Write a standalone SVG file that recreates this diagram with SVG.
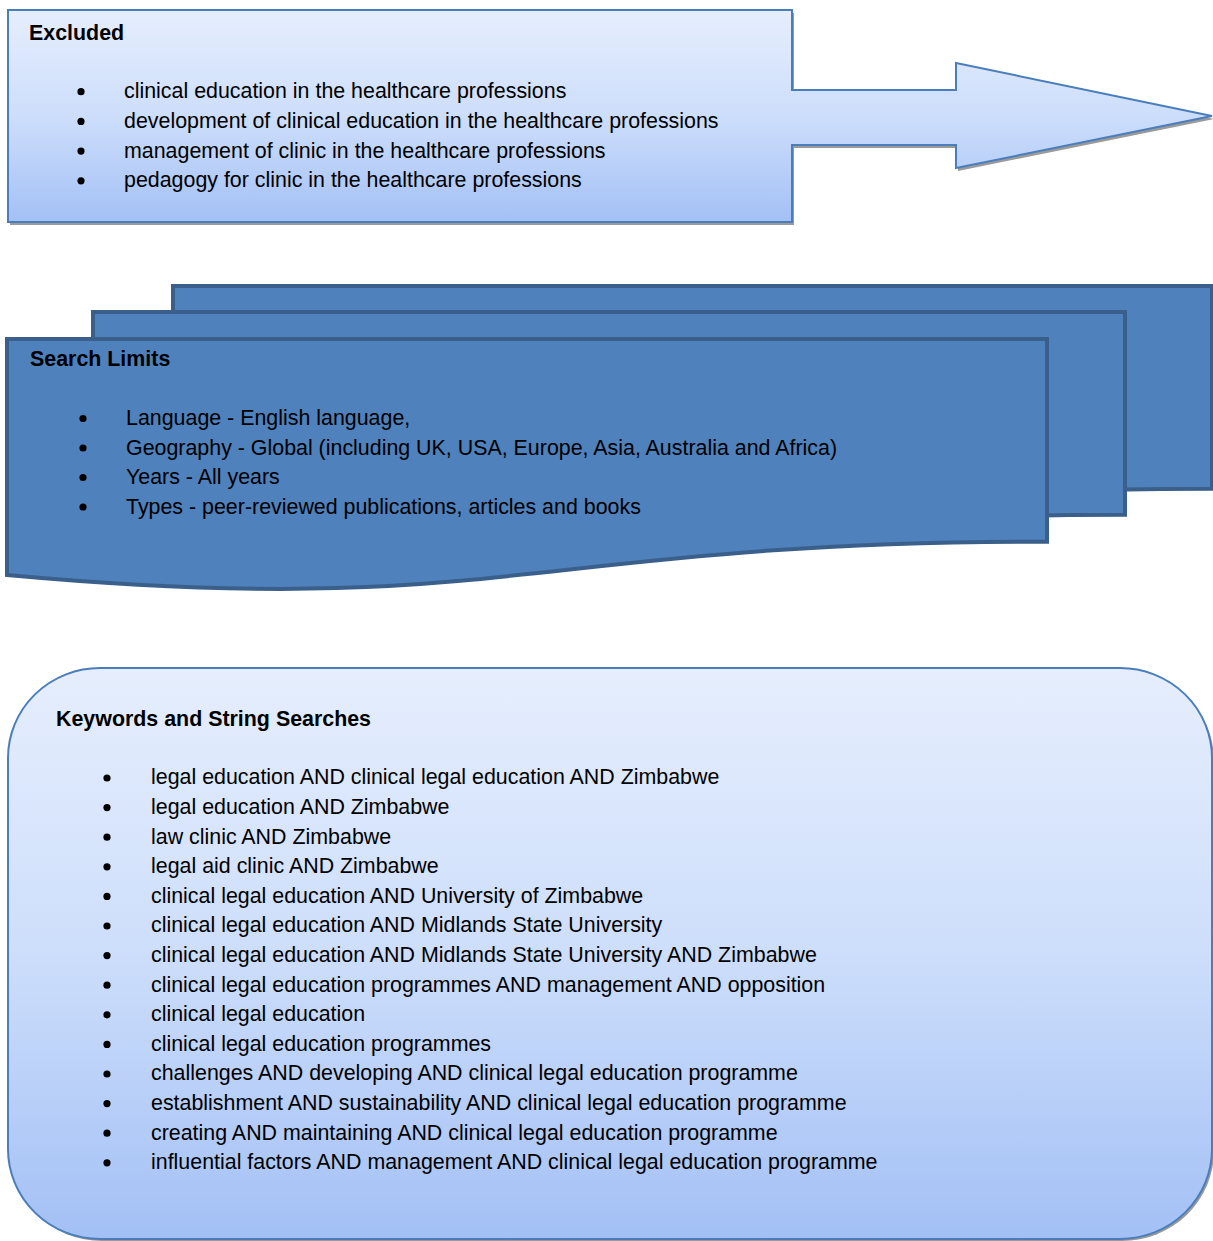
<svg xmlns="http://www.w3.org/2000/svg" width="1213" height="1241" viewBox="0 0 1213 1241">
<defs>
<linearGradient id="gradLight" x1="0" y1="0" x2="0" y2="1">
<stop offset="0" stop-color="#e6eefd"/>
<stop offset="0.5" stop-color="#cddefb"/>
<stop offset="1" stop-color="#a3c0f5"/>
</linearGradient>
</defs>
<style>
text{font-family:"Liberation Sans",Arial,sans-serif;font-size:21.4px;fill:#000}
.title{font-weight:bold}
.bul{fill:#000}
.light{fill:url(#gradLight);stroke:#4a7ebb;stroke-width:2}
.shadow{fill:#9a9a9a;stroke:none}
.doc{fill:#4f81bd;stroke:#3a5f8b;stroke-width:4;stroke-linejoin:miter}
</style>

<g id="excluded">
<path class="shadow" transform="translate(2,3)" d="M8,10 H792 V90 H956 V63 L1212,116 L956,168 V145 H792 V222 H8 Z"/>
<path class="light" d="M8,10 H792 V90 H956 V63 L1212,116 L956,168 V145 H792 V222 H8 Z"/>
<text class="title" x="29" y="40">Excluded</text>
<circle class="bul" cx="81" cy="91.7" r="3.6"/>
<circle class="bul" cx="81" cy="121.4" r="3.6"/>
<circle class="bul" cx="81" cy="151.1" r="3.6"/>
<circle class="bul" cx="81" cy="180.8" r="3.6"/>
<text x="124" y="98.3">clinical education in the healthcare professions</text>
<text x="124" y="128">development of clinical education in the healthcare professions</text>
<text x="124" y="157.7">management of clinic in the healthcare professions</text>
<text x="124" y="187.4">pedagogy for clinic in the healthcare professions</text>
</g>

<g id="search-limits">
<path class="doc" d="M173,286 H1212 V488.7 C692,488.7 692,566 173,522 Z"/>
<path class="doc" d="M93,312 H1125 V514.7 C609,514.7 609,592 93,548 Z"/>
<path class="doc" d="M7,339 H1047 V541.7 C527,541.7 500,620 7,575 Z"/>
<text class="title" x="30" y="366">Search Limits</text>
<circle class="bul" cx="83" cy="418.5" r="3.6"/>
<circle class="bul" cx="83" cy="448" r="3.6"/>
<circle class="bul" cx="83" cy="477.5" r="3.6"/>
<circle class="bul" cx="83" cy="507" r="3.6"/>
<text x="126" y="425">Language - English language,</text>
<text x="126" y="454.5">Geography - Global (including UK, USA, Europe, Asia, Australia and Africa)</text>
<text x="126" y="484">Years - All years</text>
<text x="126" y="513.5">Types - peer-reviewed publications, articles and books</text>
</g>

<g id="keywords">
<rect class="shadow" x="10" y="671" width="1204" height="570" rx="92" ry="90"/>
<rect class="light" x="8" y="668" width="1204" height="571" rx="92" ry="90"/>
<text class="title" x="56" y="726">Keywords and String Searches</text>
<g>
<circle class="bul" cx="107" cy="778" r="3.6"/>
<circle class="bul" cx="107" cy="807.6" r="3.6"/>
<circle class="bul" cx="107" cy="837.2" r="3.6"/>
<circle class="bul" cx="107" cy="866.8" r="3.6"/>
<circle class="bul" cx="107" cy="896.4" r="3.6"/>
<circle class="bul" cx="107" cy="926" r="3.6"/>
<circle class="bul" cx="107" cy="955.6" r="3.6"/>
<circle class="bul" cx="107" cy="985.2" r="3.6"/>
<circle class="bul" cx="107" cy="1014.8" r="3.6"/>
<circle class="bul" cx="107" cy="1044.4" r="3.6"/>
<circle class="bul" cx="107" cy="1074" r="3.6"/>
<circle class="bul" cx="107" cy="1103.6" r="3.6"/>
<circle class="bul" cx="107" cy="1133.2" r="3.6"/>
<circle class="bul" cx="107" cy="1162.8" r="3.6"/>
</g>
<text x="151" y="784.3">legal education AND clinical legal education AND Zimbabwe</text>
<text x="151" y="813.9">legal education AND Zimbabwe</text>
<text x="151" y="843.5">law clinic AND Zimbabwe</text>
<text x="151" y="873.1">legal aid clinic AND Zimbabwe</text>
<text x="151" y="902.7">clinical legal education AND University of Zimbabwe</text>
<text x="151" y="932.3">clinical legal education AND Midlands State University</text>
<text x="151" y="961.9">clinical legal education AND Midlands State University AND Zimbabwe</text>
<text x="151" y="991.5">clinical legal education programmes AND management AND opposition</text>
<text x="151" y="1021.1">clinical legal education</text>
<text x="151" y="1050.7">clinical legal education programmes</text>
<text x="151" y="1080.3">challenges AND developing AND clinical legal education programme</text>
<text x="151" y="1109.9">establishment AND sustainability AND clinical legal education programme</text>
<text x="151" y="1139.5">creating AND maintaining AND clinical legal education programme</text>
<text x="151" y="1169.1">influential factors AND management AND clinical legal education programme</text>
</g>

<g id="connectors"></g>
</svg>
